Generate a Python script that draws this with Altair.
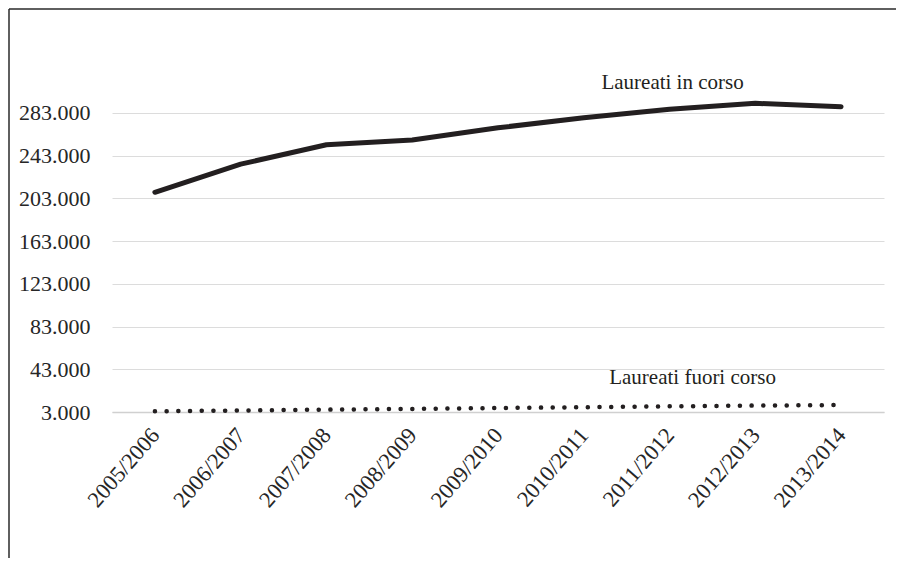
import altair as alt
import pandas as pd

anni = ["2005/2006", "2006/2007", "2007/2008", "2008/2009", "2009/2010",
        "2010/2011", "2011/2012", "2012/2013", "2013/2014"]
in_corso = [208600, 234900, 253000, 257500, 268900, 278400, 286200, 291800, 288600]
fuori_corso = [3700, 4400, 5200, 5900, 6700, 7500, 8300, 9000, 9500]
y_ticks = [3000, 43000, 83000, 123000, 163000, 203000, 243000, 283000]

ann_testo = ["Laureati in corso", "Laureati fuori corso"]
ann_anno = ["2011/2012", "2011/2012"]
ann_valore = [305500, 29500]
ann_dx = [3, 23]

FONT = "Liberation Serif"
INK = "#231f20"

df_in = pd.DataFrame({"anno": anni, "valore": in_corso})
df_fuori = pd.DataFrame({"anno": anni, "valore": fuori_corso})

x_enc = alt.X("anno:N", sort=anni,
              scale=alt.Scale(type="point", padding=0.5),
              axis=alt.Axis(title=None, labelAngle=-49, labelAlign="right",
                            labelBaseline="middle", labelPadding=19,
                            ticks=False, grid=False, domain=True,
                            domainColor="#d0d0d0", domainWidth=1.5,
                            labelFont=FONT, labelFontSize=22.5,
                            labelColor="#262626"))
y_enc = alt.Y("valore:Q",
              scale=alt.Scale(domain=[3000, 323000], nice=False, zero=False),
              axis=alt.Axis(title=None, values=y_ticks,
                            labelExpr="replace(format(datum.value, ',.0f'), ',', '.')",
                            ticks=False, domain=False, grid=True,
                            gridColor="#dcdcdc", gridWidth=1,
                            labelPadding=22, labelFont=FONT, labelFontSize=22,
                            labelColor="#262626"))

line_in = alt.Chart(df_in).mark_line(
    color=INK, strokeWidth=5, strokeCap="round", strokeJoin="round"
).encode(x=x_enc, y=y_enc)

line_fuori = alt.Chart(df_fuori).mark_line(
    color=INK, strokeWidth=4.5, strokeCap="round", strokeDash=[0.1, 11.6]
).encode(x=x_enc, y=y_enc)

text_layers = []
for t, a, v, d in zip(ann_testo, ann_anno, ann_valore, ann_dx):
    df_t = pd.DataFrame({"testo": [t], "anno": [a], "valore": [v]})
    text_layers.append(
        alt.Chart(df_t).mark_text(
            font=FONT, fontSize=21, color=INK, align="center",
            baseline="alphabetic", dx=d
        ).encode(x=alt.X("anno:N", sort=anni), y="valore:Q", text="testo:N")
    )

one = pd.DataFrame({"k": [0]})
frame_top = alt.Chart(one).mark_rule(color="#2a2a2a", strokeWidth=1.5).encode(
    x=alt.value(-103), x2=alt.value(790), y=alt.value(-61))
frame_left = alt.Chart(one).mark_rule(color="#2a2a2a", strokeWidth=1.5).encode(
    x=alt.value(-103), y=alt.value(-61), y2=alt.value(500))

chart = alt.layer(frame_top, frame_left, line_fuori, line_in, *text_layers).properties(
    width=772, height=342,
    autosize=alt.AutoSizeParams(type="none"),
    padding={"left": 104, "top": 62, "right": 12, "bottom": 146},
    background="white",
).configure_view(stroke=None)

chart.save("out.html", embed_options={"renderer": "svg", "actions": False})
